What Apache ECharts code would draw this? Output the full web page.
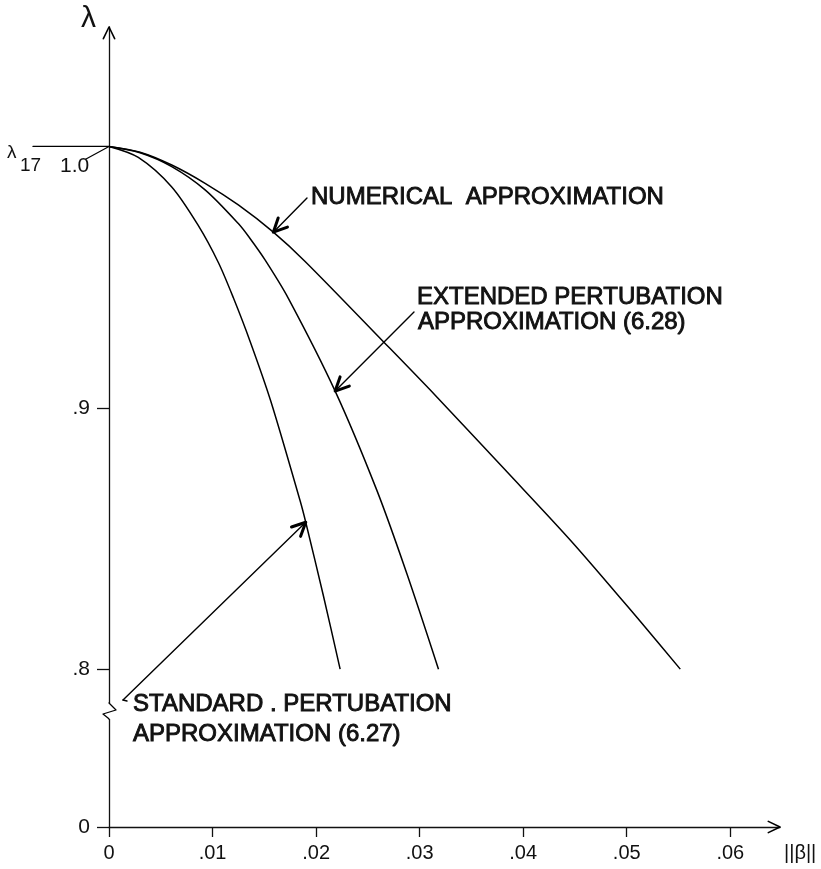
<!DOCTYPE html>
<html><head><meta charset="utf-8">
<script src="https://cdn.jsdelivr.net/npm/echarts@6/dist/echarts.min.js"></script>
<style>html,body{margin:0;padding:0;background:#fff}#c{width:821px;height:869px}</style>
</head><body><div id="c"></div>
<script>
// ---- data ----
const numericalX = [0, 0.0030, 0.00606, 0.00928, 0.01249, 0.01587, 0.01894, 0.0265, 0.0315, 0.03843, 0.04486, 0.0513, 0.05517];
const numericalY = [1.0, 0.9978, 0.9929, 0.9859, 0.9776, 0.9672, 0.9560, 0.9253, 0.9048, 0.8755, 0.8480, 0.8183, 0.8000];
const extendedX = [0, 0.0030, 0.00606, 0.00928, 0.01249, 0.01362, 0.01507, 0.01732, 0.02184, 0.02586, 0.02876, 0.03182];
const extendedY = [1.0, 0.9976, 0.9923, 0.9834, 0.9705, 0.9648, 0.9566, 0.9419, 0.9064, 0.8685, 0.8366, 0.8000];
const standardX = [0, 0.00283, 0.00606, 0.00863, 0.01056, 0.01201, 0.01362, 0.01562, 0.01845, 0.0190, 0.02071, 0.02232];
const standardY = [1.0, 0.9958, 0.9845, 0.9697, 0.9556, 0.9421, 0.9255, 0.9026, 0.8645, 0.8562, 0.8280, 0.8000];

const xTicks = [0, 0.01, 0.02, 0.03, 0.04, 0.05, 0.06];
const xTickLabels = ['0', '.01', '.02', '.03', '.04', '.05', '.06'];
const yTicks = [0.8, 0.9];
const yTickLabels = ['.8', '.9'];
const yBreakValue = 0.7396;      // bottom of the broken axis, labelled "0"
const yBreakLabel = '0';
const lambdaRef = 1.0;
const lambdaRefLabel = '1.0';
const xMax = 0.0648;
const yMax = 1.0457;

const labelNumerical = ['NUMERICAL  APPROXIMATION'];
const labelExtended = ['EXTENDED PERTUBATION', 'APPROXIMATION (6.28)'];
const labelStandard = ['STANDARD . PERTUBATION', 'APPROXIMATION (6.27)'];

(function () {
const pick = (vals, labs) => v => {
  for (let i = 0; i < vals.length; i++) if (Math.abs(vals[i] - v) < 1e-7) return labs[i];
  return '';
};
const zip = (xs, ys) => xs.map((x, i) => [x, ys[i]]);

const INK = '#111';
const FONT = '"Liberation Sans", Arial, sans-serif';
const chart = echarts.init(document.getElementById('c'), null, {renderer: 'canvas'});

const lineSeries = (name, xs, ys) => ({
  name, type: 'line', data: zip(xs, ys), showSymbol: false, smooth: 0.3,
  lineStyle: {color: '#000', width: 1.5}, silent: true
});

chart.setOption({
  animation: false,
  backgroundColor: '#fff',
  grid: {left: 109, right: 41, top: 27, bottom: 42},
  xAxis: {
    type: 'value', min: 0, max: xMax, splitLine: {show: false},
    axisLine: {show: true, onZero: false, lineStyle: {color: INK, width: 1.3}},
    axisTick: {show: true, customValues: xTicks, length: 10, lineStyle: {color: INK, width: 1.3}},
    axisLabel: {customValues: xTicks, formatter: pick(xTicks, xTickLabels), margin: 16,
      color: INK, fontSize: 20, fontFamily: FONT}
  },
  yAxis: {
    type: 'value', min: yBreakValue, max: yMax, splitLine: {show: false},
    axisLine: {show: true, onZero: false, lineStyle: {color: INK, width: 1.3}},
    axisTick: {show: true, customValues: [yBreakValue].concat(yTicks), length: 12, lineStyle: {color: INK, width: 1.3}},
    axisLabel: {customValues: [yBreakValue].concat(yTicks),
      formatter: pick([yBreakValue].concat(yTicks), [yBreakLabel].concat(yTickLabels)),
      margin: 19, color: INK, fontSize: 21, fontFamily: FONT}
  },
  series: [
    lineSeries('Numerical approximation', numericalX, numericalY),
    lineSeries('Extended pertubation approximation (6.28)', extendedX, extendedY),
    lineSeries('Standard pertubation approximation (6.27)', standardX, standardY)
  ]
});

const P = (x, y) => chart.convertToPixel({gridIndex: 0}, [x, y]);
const g = [];
const line = (pts, w) => g.push({type: 'polyline', z: 50, shape: {points: pts},
  style: {stroke: '#000', lineWidth: w || 1.3, fill: null, lineJoin: 'round', lineCap: 'round'}});
const text = (s, x, y, size, opts) => g.push({type: 'text', z: 60, x: x, y: y,
  style: Object.assign({text: s, fill: INK, font: size + 'px ' + FONT, verticalAlign: 'middle', align: 'left'}, opts || {})});
const chevron = (tip, from, len, ang, w) => {
  const dx = tip[0] - from[0], dy = tip[1] - from[1], L = Math.hypot(dx, dy);
  const ux = dx / L, uy = dy / L;
  const arm = s => {
    const c = Math.cos(s * ang), sn = Math.sin(s * ang);
    const rx = ux * c - uy * sn, ry = ux * sn + uy * c;
    return [tip[0] - len * rx, tip[1] - len * ry];
  };
  line([arm(1), tip, arm(-1)], w);
};
const pointer = (tail, tip) => { line([tail, tip], 1.4); chevron(tip, tail, 15, 0.45, 3); };

// axis arrow heads
const o = P(0, yBreakValue);
const yTop = P(0, yMax);
const xEnd = P(xMax, yBreakValue);
chevron(yTop, [yTop[0], yTop[1] + 50], 13, 0.45, 1.6);
chevron(xEnd, [xEnd[0] - 50, xEnd[1]], 13, 0.45, 1.6);

// axis break
g.push({type: 'rect', z: 45, shape: {x: o[0] - 5, y: 703, width: 10, height: 16}, style: {fill: '#fff'}});
line([[o[0], 703], [o[0] + 7, 710], [o[0] - 6, 714], [o[0] - 1, 718], [o[0], 719]], 1.3);

// lambda labels
text('λ', 81, 19, 30);
const ref = P(0, lambdaRef);
line([[33, ref[1]], ref], 1.3);
text('λ', 7, 153, 19);
text('17', 20, 166, 19);
text(lambdaRefLabel, 60, 166, 21);
line([[86, 159], ref], 1.2);

// x-axis name
text('||β||', 784, 853, 20);

// annotations
const ann = {stroke: INK, lineWidth: 0.9};
text(labelNumerical[0], 311, 197.5, 24, ann);
text(labelExtended[0], 417, 297, 24, ann);
text(labelExtended[1], 418, 322, 24, ann);
text(labelStandard[0], 133, 704, 24, ann);
text(labelStandard[1], 133, 734, 24, ann);

pointer([307, 198], P(numericalX[5], numericalY[5]));
pointer([414, 312], P(extendedX[8], extendedY[8]));
pointer([123, 700], P(standardX[9], standardY[9]));
line([[123, 700], [127, 701]], 1.3);

chart.setOption({graphic: {elements: g}});
})();
</script></body></html>
